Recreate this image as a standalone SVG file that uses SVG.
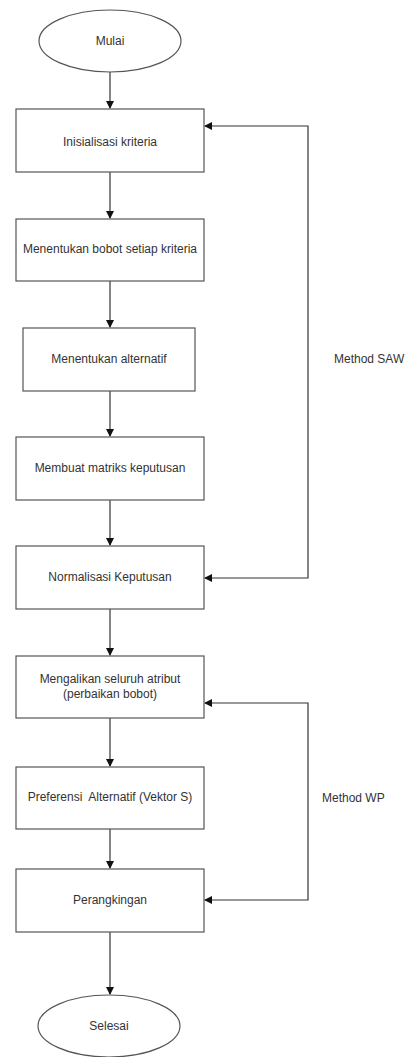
<svg xmlns="http://www.w3.org/2000/svg" width="407" height="1057" viewBox="0 0 407 1057">
<style>
.n{fill:#fff;stroke:#555;stroke-width:1.2}
.t{font-family:"Liberation Sans",Arial,sans-serif;font-size:12px;fill:#333;text-anchor:middle;dominant-baseline:central}
.l{font-family:"Liberation Sans",Arial,sans-serif;font-size:12px;fill:#333;dominant-baseline:central}
.c{fill:none;stroke:#333;stroke-width:1.2;marker-end:url(#a)}
.b{marker-start:url(#a)}
</style>
<defs>
<marker id="a" markerWidth="8" markerHeight="8" refX="7" refY="4" orient="auto-start-reverse" markerUnits="userSpaceOnUse">
<path d="M0,0 L8,4 L0,8 Z" fill="#111"/>
</marker>
</defs>
<rect width="407" height="1057" fill="#fff"/>
<g id="connectors">
<path class="c" d="M110,72 V108"/>
<path class="c" d="M110,172 V218"/>
<path class="c" d="M110,281 V327"/>
<path class="c" d="M110,391 V436"/>
<path class="c" d="M110,500 V545"/>
<path class="c" d="M110,609 V655"/>
<path class="c" d="M110,718 V766"/>
<path class="c" d="M110,829 V868"/>
<path class="c" d="M110,932 V994"/>
<path class="c b" d="M205,126 H308 V578 H205"/>
<path class="c b" d="M205,703 H308 V900 H205"/>
</g>
<g id="mulai"><ellipse class="n" cx="110" cy="41" rx="71" ry="31"/><text class="t" x="110" y="41">Mulai</text></g>
<g id="n1"><rect class="n" x="16" y="109" width="188" height="63"/><text class="t" x="110" y="142">Inisialisasi kriteria</text></g>
<g id="n2"><rect class="n" x="16" y="219" width="188" height="62"/><text class="t" x="110" y="249">Menentukan bobot setiap kriteria</text></g>
<g id="n3"><rect class="n" x="23" y="328" width="172" height="63"/><text class="t" x="109" y="359">Menentukan alternatif</text></g>
<g id="n4"><rect class="n" x="16" y="437" width="188" height="63"/><text class="t" x="110" y="468">Membuat matriks keputusan</text></g>
<g id="n5"><rect class="n" x="16" y="546" width="188" height="63"/><text class="t" x="110" y="577">Normalisasi Keputusan</text></g>
<g id="n6"><rect class="n" x="16" y="656" width="188" height="62"/><text class="t" x="110" y="679">Mengalikan seluruh atribut</text><text class="t" x="110" y="694">(perbaikan bobot)</text></g>
<g id="n7"><rect class="n" x="16" y="767" width="188" height="62"/><text class="t" x="110" y="797" xml:space="preserve">Preferensi  Alternatif (Vektor S)</text></g>
<g id="n8"><rect class="n" x="16" y="869" width="188" height="63"/><text class="t" x="110" y="900">Perangkingan</text></g>
<g id="selesai"><ellipse class="n" cx="109" cy="1026" rx="71" ry="31"/><text class="t" x="109" y="1026">Selesai</text></g>
<g id="labels">
<text class="l" x="334" y="359">Method SAW</text>
<text class="l" x="322" y="798">Method WP</text>
</g>
</svg>
